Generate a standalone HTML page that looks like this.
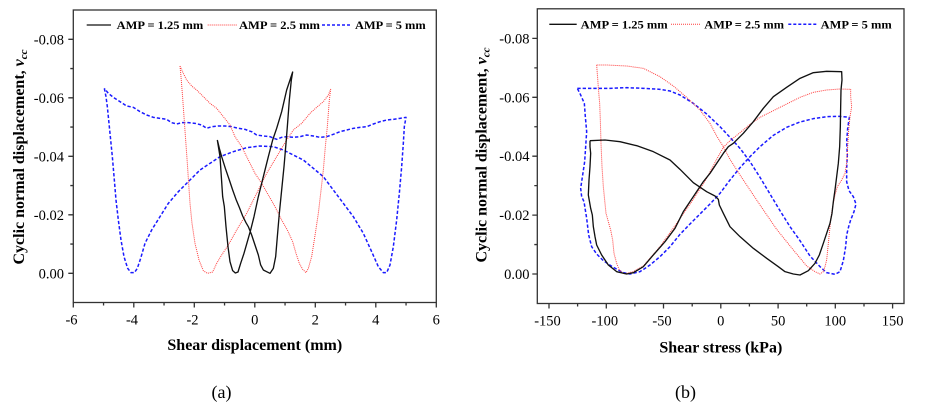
<!DOCTYPE html>
<html>
<head>
<meta charset="utf-8">
<style>
html,body{margin:0;padding:0;background:#fff;}
svg{display:block;}
text{font-family:"Liberation Serif",serif;fill:#000;}
</style>
</head>
<body>
<svg width="926" height="410" viewBox="0 0 926 410" xmlns="http://www.w3.org/2000/svg">
<rect x="0" y="0" width="926" height="410" fill="#fff"/>

<!-- ================= LEFT PLOT ================= -->
<g stroke="#333" stroke-width="1.3" fill="none">
  <rect x="73.3" y="10" width="363" height="292.5"/>
  <!-- y major ticks -->
  <path d="M73.3,273.3h-5M73.3,214.8h-5M73.3,156.3h-5M73.3,97.8h-5M73.3,39.3h-5"/>
  <!-- y minor -->
  <path d="M73.3,244.05h-3M73.3,185.55h-3M73.3,127.05h-3M73.3,68.55h-3"/>
  <!-- x major -->
  <path d="M73.3,302.5v5M133.8,302.5v5M194.3,302.5v5M254.8,302.5v5M315.3,302.5v5M375.8,302.5v5M436.3,302.5v5"/>
  <!-- x minor -->
  <path d="M103.55,302.5v3M164.05,302.5v3M224.55,302.5v3M285.05,302.5v3M345.55,302.5v3M406.05,302.5v3"/>
</g>
<g font-size="14.5" text-anchor="end">
  <text x="64" y="278.3">0.00</text>
  <text x="64" y="219.8">-0.02</text>
  <text x="64" y="161.3">-0.04</text>
  <text x="64" y="102.8">-0.06</text>
  <text x="64" y="44.3">-0.08</text>
</g>
<g font-size="14.5" text-anchor="middle">
  <text x="71.5" y="324.5">-6</text>
  <text x="132" y="324.5">-4</text>
  <text x="192.5" y="324.5">-2</text>
  <text x="254.8" y="324.5">0</text>
  <text x="315.3" y="324.5">2</text>
  <text x="375.8" y="324.5">4</text>
  <text x="436.3" y="324.5">6</text>
</g>
<text x="254.8" y="350" font-size="16" font-weight="bold" text-anchor="middle">Shear displacement (mm)</text>
<text transform="translate(24,157) rotate(-90)" font-size="16" font-weight="bold" text-anchor="middle">Cyclic normal displacement, <tspan font-style="italic">v</tspan><tspan font-style="italic" font-size="11" dy="3">cc</tspan></text>
<text x="221.5" y="398" font-size="18" text-anchor="middle">(a)</text>

<!-- legend left -->
<line x1="86.7" y1="25" x2="111" y2="25" stroke="#111" stroke-width="1.3"/>
<text x="116.7" y="29" font-size="12" font-weight="bold" textLength="86.6" lengthAdjust="spacingAndGlyphs">AMP = 1.25 mm</text>
<line x1="207.7" y1="25" x2="236.7" y2="25" stroke="#ff3b3b" stroke-width="1" stroke-dasharray="1 1"/>
<text x="239" y="29" font-size="12" font-weight="bold" textLength="81" lengthAdjust="spacingAndGlyphs">AMP = 2.5 mm</text>
<line x1="322" y1="25" x2="351" y2="25" stroke="#1a1aff" stroke-width="1.5" stroke-dasharray="3 2"/>
<text x="355" y="29" font-size="12" font-weight="bold" textLength="70.7" lengthAdjust="spacingAndGlyphs">AMP = 5 mm</text>

<g transform="scale(0.33333)" fill="none" stroke-linejoin="round">
  <!-- blue -->
  <path stroke="#1a1aff" stroke-width="4.5" stroke-dasharray="10 6" d="M313,265 L318,290 322,320 330,400 337,470 343,540 348,600 355,660 363,720 372,770 383,805 393,818 403,818 412,805 422,775 435,730 455,690 480,650 505,610 535,575 565,545 600,510 630,490 660,470 700,455 740,443 780,438 820,440 850,450 880,465 910,480 940,505 970,530 1000,570 1030,610 1060,650 1090,700 1115,755 1135,800 1150,818 1160,818 1170,795 1180,740 1190,660 1198,580 1205,500 1210,430 1213,380 1218,352 L1200,355 1180,358 1160,360 1140,365 1120,372 1100,380 1080,382 1060,385 1040,390 1020,395 1000,403 980,410 960,412 940,408 920,405 900,410 880,412 860,410 845,412 830,418 810,410 790,408 770,405 755,395 745,392 735,388 715,385 695,380 675,378 655,378 635,380 620,385 605,375 585,370 565,368 545,368 530,372 515,368 500,358 480,355 460,352 440,345 420,335 400,322 380,318 360,305 340,292 325,280 313,265"/>
  <!-- red -->
  <path stroke="#ff3b3b" stroke-width="3" stroke-dasharray="3 3" d="M540,198 L543,230 547,280 552,350 557,420 562,490 566,550 570,610 576,670 585,730 597,780 610,812 622,820 638,816 650,790 665,765 685,735 710,690 740,640 770,580 800,520 830,470 860,420 880,390 905,370 930,340 950,322 970,305 985,285 992,268 L988,300 982,380 976,440 970,510 962,580 955,640 946,700 935,770 925,805 918,818 908,808 898,790 888,760 878,725 862,690 845,660 825,620 805,585 785,550 765,520 745,480 725,440 705,410 690,375 670,350 650,325 630,310 610,290 590,270 575,258 560,240 550,220 540,198"/>
  <!-- black -->
  <path stroke="#111" stroke-width="4" d="M652,420 L656,445 660,470 664,530 668,590 673,620 678,680 684,740 690,785 698,812 706,819 714,816 722,790 732,760 742,725 752,690 762,650 775,590 790,530 805,470 818,420 830,385 845,335 860,270 870,240 878,216 L874,240 868,300 862,380 858,430 852,500 845,570 838,640 832,710 827,770 820,805 810,820 800,815 790,810 782,795 775,765 765,735 755,705 745,680 738,668 728,648 718,622 708,598 698,570 688,540 676,505 665,470 658,445 652,420"/>
</g>

<!-- ================= RIGHT PLOT ================= -->
<g stroke="#333" stroke-width="1.3" fill="none">
  <rect x="537.3" y="8.8" width="366.7" height="294.7"/>
  <path d="M537.3,274h-5M537.3,215.1h-5M537.3,156.2h-5M537.3,97.3h-5M537.3,38.4h-5"/>
  <path d="M537.3,244.55h-3M537.3,185.65h-3M537.3,126.75h-3M537.3,67.85h-3"/>
  <path d="M549,303.5v5M606.3,303.5v5M663.5,303.5v5M720.8,303.5v5M778.1,303.5v5M835.3,303.5v5M892.6,303.5v5"/>
  <path d="M577.6,303.5v3M634.9,303.5v3M692.2,303.5v3M749.4,303.5v3M806.7,303.5v3M864,303.5v3"/>
</g>
<g font-size="14.5" text-anchor="end">
  <text x="529.5" y="279">0.00</text>
  <text x="529.5" y="220.1">-0.02</text>
  <text x="529.5" y="161.2">-0.04</text>
  <text x="529.5" y="102.3">-0.06</text>
  <text x="529.5" y="43.4">-0.08</text>
</g>
<g font-size="14.5" text-anchor="middle">
  <text x="547.5" y="325.5">-150</text>
  <text x="604.8" y="325.5">-100</text>
  <text x="662" y="325.5">-50</text>
  <text x="720.8" y="325.5">0</text>
  <text x="778.1" y="325.5">50</text>
  <text x="835.3" y="325.5">100</text>
  <text x="892.6" y="325.5">150</text>
</g>
<text x="720.8" y="352.5" font-size="16" font-weight="bold" text-anchor="middle">Shear stress (kPa)</text>
<text transform="translate(486.5,155) rotate(-90)" font-size="16" font-weight="bold" text-anchor="middle">Cyclic normal displacement, <tspan font-style="italic">v</tspan><tspan font-style="italic" font-size="11" dy="3">cc</tspan></text>
<text x="685.5" y="398" font-size="18" text-anchor="middle">(b)</text>

<!-- legend right -->
<line x1="549.3" y1="24.3" x2="576.7" y2="24.3" stroke="#111" stroke-width="1.3"/>
<text x="580.7" y="28.3" font-size="12" font-weight="bold" textLength="87" lengthAdjust="spacingAndGlyphs">AMP = 1.25 mm</text>
<line x1="671" y1="24.3" x2="700.7" y2="24.3" stroke="#ff3b3b" stroke-width="1" stroke-dasharray="1 1"/>
<text x="704.3" y="28.3" font-size="12" font-weight="bold" textLength="79.7" lengthAdjust="spacingAndGlyphs">AMP = 2.5 mm</text>
<line x1="788.3" y1="24.3" x2="817.3" y2="24.3" stroke="#1a1aff" stroke-width="1.5" stroke-dasharray="3 2"/>
<text x="820.7" y="28.3" font-size="12" font-weight="bold" textLength="71" lengthAdjust="spacingAndGlyphs">AMP = 5 mm</text>

<g transform="translate(460,0) scale(0.33333)" fill="none" stroke-linejoin="round">
  <!-- blue -->
  <path stroke="#1a1aff" stroke-width="4.5" stroke-dasharray="10 6" d="M352,265 L400,265 450,265 500,263 550,265 600,268 630,273 660,285 700,310 740,342 780,380 810,412 840,445 870,485 900,532 930,582 960,632 990,680 1020,722 1050,768 1080,800 1100,818 1125,823 1140,815 1150,782 1157,740 1160,705 1166,680 1172,660 1182,635 1188,612 1180,590 1167,572 1160,545 1160,505 1162,465 1160,425 1163,385 1168,352 L1140,349 1100,350 1060,356 1020,366 980,382 940,406 900,440 870,470 840,503 810,540 780,580 750,612 720,642 690,672 660,703 630,740 600,770 570,795 540,815 510,822 490,818 460,802 430,782 410,762 395,740 386,705 380,655 372,605 365,590 362,565 368,525 374,485 377,440 380,395 376,350 373,310 362,285 352,265"/>
  <!-- red -->
  <path stroke="#ff3b3b" stroke-width="3" stroke-dasharray="3 3" d="M410,195 L440,195 500,198 550,205 600,230 640,258 680,292 720,330 750,370 770,408 790,440 810,478 840,525 870,570 900,615 950,688 1000,750 1040,798 1065,815 1080,822 1090,815 1095,800 1100,780 1104,740 1108,700 1112,660 1118,620 1125,585 1132,560 1145,540 1155,520 1160,490 1163,440 1166,390 1170,350 1175,320 1172,290 1172,268 L1140,267 1100,270 1060,277 1020,292 980,312 940,332 900,352 870,373 840,398 810,422 790,442 770,478 740,535 700,598 650,670 600,740 550,798 520,815 492,822 478,810 470,790 462,760 458,720 452,690 445,665 438,640 434,600 430,560 426,500 423,430 421,360 419,310 416,275 413,235 410,195"/>
  <!-- black -->
  <path stroke="#111" stroke-width="4" d="M390,422 L435,420 480,425 530,437 580,455 630,480 660,508 700,548 740,575 765,588 775,598 778,615 790,640 810,680 840,710 880,745 920,775 955,800 975,815 1000,822 1020,825 1045,812 1065,790 1078,765 1090,730 1100,700 1110,670 1116,640 1120,605 1125,570 1130,530 1135,490 1139,440 1141,380 1142,320 1143,270 1146,240 1145,215 L1100,214 1060,218 1020,235 980,262 940,290 910,325 880,365 850,400 820,430 805,440 790,460 770,490 750,520 730,545 710,575 690,605 670,635 645,685 615,725 580,765 550,800 520,818 500,822 470,815 445,795 425,765 410,735 405,710 400,680 397,645 392,625 385,585 387,540 390,500 392,460 390,440 390,422"/>
</g>
</svg>
</body>
</html>
